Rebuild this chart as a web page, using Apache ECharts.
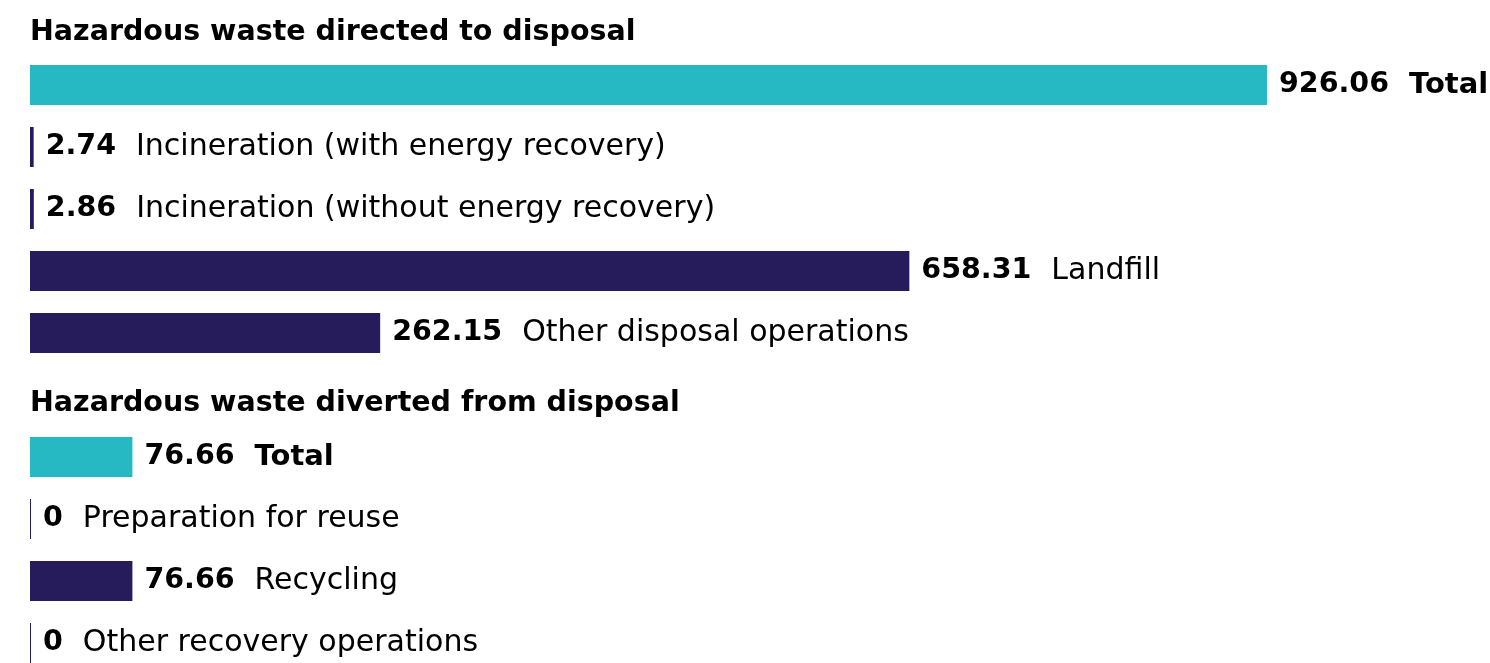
<!DOCTYPE html>
<html>
<head>
<meta charset="utf-8">
<script src="https://cdn.jsdelivr.net/npm/echarts@6/dist/echarts.min.js"></script>
<style>
  html, body { margin: 0; padding: 0; background: #fff; }
  #chart { width: 1490px; height: 663px; }
</style>
</head>
<body>
<div id="chart"></div>
<script>
const directedTitle = 'Hazardous waste directed to disposal';
const divertedTitle = 'Hazardous waste diverted from disposal';

const directedCategories = ['Total', 'Incineration (with energy recovery)', 'Incineration (without energy recovery)', 'Landfill', 'Other disposal operations'];
const directedValues = [926.06, 2.74, 2.86, 658.31, 262.15];

const divertedCategories = ['Total', 'Preparation for reuse', 'Recycling', 'Other recovery operations'];
const divertedValues = [76.66, 0, 76.66, 0];

const TEAL = '#26B8C3';
const NAVY = '#261C5B';
const FONT = 'DejaVu Sans';

const chart = echarts.init(document.getElementById('chart'));

// one empty slot between the two groups holds the second heading
const categories = [...directedCategories.map((c, i) => 'a' + i), 'gap', ...divertedCategories.map((c, i) => 'b' + i)];
const names = [...directedCategories, '', ...divertedCategories];

function item(v, i) {
  return { value: v, itemStyle: { color: i === 0 ? TEAL : NAVY } };
}
const data = [
  ...directedValues.map(item),
  '-',
  ...divertedValues.map(item)
];

const option = {
  animation: false,
  title: [
    {
      text: directedTitle, left: 30, top: 18, padding: 0,
      textStyle: { fontFamily: FONT, fontWeight: 'bold', fontSize: 28.5, color: '#000' }
    },
    {
      text: divertedTitle, left: 30, top: 389, padding: 0,
      textStyle: { fontFamily: FONT, fontWeight: 'bold', fontSize: 28.5, color: '#000' }
    }
  ],
  grid: { left: 30, top: 85, width: 1237, height: 558 },
  xAxis: {
    type: 'value', min: 0, max: directedValues[0],
    show: false
  },
  yAxis: {
    type: 'category', data: categories, inverse: true, show: false, boundaryGap: false
  },
  series: [{
    type: 'bar',
    data: data,
    barWidth: 40,
    barMinHeight: 1,
    label: {
      show: true,
      position: 'right',
      distance: 12,
      formatter: p => {
        const n = names[p.dataIndex];
        const v = p.value;
        return '{v|' + v + '}' + (n === 'Total' ? '{t|' + n + '}' : '{n|' + n + '}');
      },
      rich: {
        v: { fontFamily: FONT, fontWeight: 'bold', fontSize: 28.5, color: '#000', padding: [0, 20, 0, 0] },
        t: { fontFamily: FONT, fontWeight: 'bold', fontSize: 29, color: '#000' },
        n: { fontFamily: FONT, fontSize: 30, color: '#000' }
      }
    }
  }]
};

chart.setOption(option);
</script>
</body>
</html>
